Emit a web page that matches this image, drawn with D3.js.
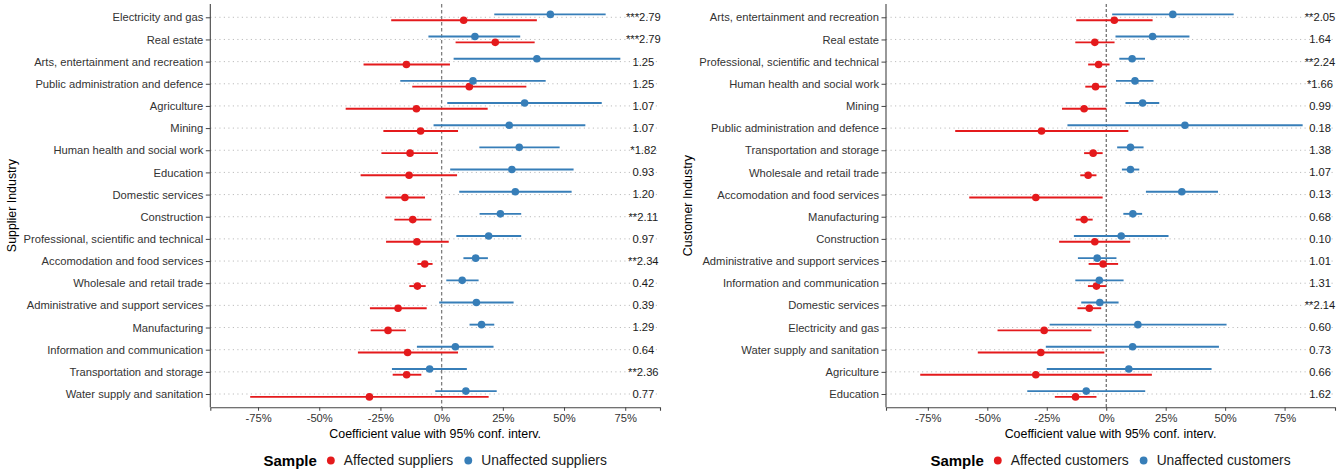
<!DOCTYPE html>
<html><head><meta charset="utf-8">
<script src="https://cdn.jsdelivr.net/npm/d3@7"></script>
<style>
html,body{margin:0;padding:0;background:#fff;}
svg text{font-family:"Liberation Sans",Arial,sans-serif;}
</style></head>
<body><svg id="chart" width="1340" height="472"></svg>
<script>
// ---------- Supplier panel data ----------
const supplierIndustries = ["Electricity and gas","Real estate","Arts, entertainment and recreation","Public administration and defence","Agriculture","Mining","Human health and social work","Education","Domestic services","Construction","Professional, scientific and technical","Accomodation and food services","Wholesale and retail trade","Administrative and support services","Manufacturing","Information and communication","Transportation and storage","Water supply and sanitation"];
const supAffected    = [0.090, 0.219,-0.144, 0.113,-0.103,-0.086,-0.129,-0.133,-0.150,-0.118,-0.101,-0.069,-0.099,-0.178,-0.219,-0.139,-0.143,-0.295];
const supAffectedLo  = [-0.206,0.057,-0.319,-0.120,-0.392,-0.238,-0.246,-0.331,-0.230,-0.193,-0.227,-0.099,-0.132,-0.293,-0.290,-0.342,-0.200,-0.782];
const supAffectedHi  = [0.389, 0.380, 0.034, 0.346, 0.188, 0.067,-0.015, 0.063,-0.068,-0.042, 0.029,-0.037,-0.065,-0.061,-0.146, 0.067,-0.083, 0.192];
const supUnaffected  = [0.444, 0.136, 0.389, 0.128, 0.339, 0.276, 0.317, 0.287, 0.301, 0.240, 0.192, 0.139, 0.084, 0.142, 0.163, 0.056,-0.049, 0.099];
const supUnaffectedLo= [0.215,-0.054, 0.049,-0.169, 0.023,-0.033, 0.154, 0.035, 0.072, 0.155, 0.060, 0.089, 0.019,-0.010, 0.114,-0.101,-0.203,-0.026];
const supUnaffectedHi= [0.670, 0.321, 0.730, 0.425, 0.654, 0.587, 0.482, 0.539, 0.531, 0.325, 0.325, 0.189, 0.151, 0.294, 0.215, 0.212, 0.103, 0.225];
const supLabels = ["***2.79","***2.79","1.25","1.25","1.07","1.07","*1.82","0.93","1.20","**2.11","0.97","**2.34","0.42","0.39","1.29","0.64","**2.36","0.77"];

// ---------- Customer panel data ----------
const customerIndustries = ["Arts, entertainment and recreation","Real estate","Professional, scientific and technical","Human health and social work","Mining","Public administration and defence","Transportation and storage","Wholesale and retail trade","Accomodation and food services","Manufacturing","Construction","Administrative and support services","Information and communication","Domestic services","Electricity and gas","Water supply and sanitation","Agriculture","Education"];
const cusAffected    = [0.034,-0.048,-0.032,-0.045,-0.093,-0.272,-0.055,-0.076,-0.296,-0.093,-0.048,-0.013,-0.041,-0.071,-0.261,-0.275,-0.296,-0.129];
const cusAffectedLo  = [-0.126,-0.130,-0.076,-0.088,-0.186,-0.635,-0.093,-0.109,-0.576,-0.128,-0.198,-0.074,-0.077,-0.121,-0.457,-0.540,-0.782,-0.216];
const cusAffectedHi  = [0.195, 0.035, 0.014, 0.000, 0.001, 0.093,-0.015,-0.041,-0.015,-0.057, 0.101, 0.050,-0.001,-0.021,-0.062,-0.008, 0.192,-0.041];
const cusUnaffected  = [0.280, 0.195, 0.109, 0.121, 0.153, 0.331, 0.102, 0.102, 0.318, 0.112, 0.063,-0.038,-0.029,-0.027, 0.133, 0.111, 0.095,-0.084];
const cusUnaffectedLo= [0.025, 0.039, 0.055, 0.041, 0.081,-0.163, 0.046, 0.066, 0.167, 0.072,-0.136,-0.119,-0.130,-0.105,-0.238,-0.254,-0.250,-0.332];
const cusUnaffectedHi= [0.536, 0.350, 0.163, 0.199, 0.223, 0.826, 0.157, 0.139, 0.470, 0.151, 0.262, 0.043, 0.073, 0.052, 0.506, 0.474, 0.443, 0.164];
const cusLabels = ["**2.05","1.64","**2.24","*1.66","0.99","0.18","1.38","1.07","0.13","0.68","0.10","1.01","1.31","**2.14","0.60","0.73","0.66","1.62"];

const xTicks = [-0.75,-0.5,-0.25,0,0.25,0.5,0.75];
const xTickLabels = ["-75%","-50%","-25%","0%","25%","50%","75%"];
const RED = "#E41A1C", BLUE = "#377EB8";

const svg = d3.select("#chart");

function panel(o){
  const g = svg.append("g");
  const x = d3.scaleLinear().domain(o.domain).range([o.left, o.right]);
  const y = d3.scalePoint().domain(o.cats).range([o.top, o.bottom]).padding(0.6);
  const dodge = y.step()*0.13;

  // gridlines
  g.append("g").selectAll("line").data(o.cats).join("line")
    .attr("x1", o.left).attr("x2", o.right)
    .attr("y1", d=>y(d)).attr("y2", d=>y(d))
    .attr("stroke","#bdbdbd").attr("stroke-width",1).attr("stroke-dasharray","1.2,3.3");

  // zero line
  g.append("line").attr("x1",x(0)).attr("x2",x(0)).attr("y1",o.top).attr("y2",o.bottom)
    .attr("stroke",o.zeroColor).attr("stroke-width",o.zeroWidth).attr("stroke-dasharray",o.zeroDash);

  // axes
  const xAxis = g.append("g").attr("transform",`translate(0,${o.bottom})`)
    .call(d3.axisBottom(x).tickValues(xTicks).tickFormat((d,i)=>xTickLabels[i]).tickSizeOuter(0).tickSize(3.5).tickPadding(3));
  xAxis.select(".domain").attr("stroke","#444").attr("stroke-width",1.1);
  xAxis.selectAll(".tick line").attr("stroke","#444");
  xAxis.selectAll(".tick text").attr("fill","#333").style("font-size","11.2px").style("font-family","'Liberation Sans',Arial,sans-serif");

  const yAxis = g.append("g").attr("transform",`translate(${o.left},0)`)
    .call(d3.axisLeft(y).tickSizeOuter(0).tickSize(4.5).tickPadding(2.5));
  yAxis.select(".domain").attr("stroke","#444").attr("stroke-width",1.1)
    .attr("d",`M0,${o.top}V${o.bottom}`);
  yAxis.selectAll(".tick line").attr("stroke","#444");
  yAxis.selectAll(".tick text").attr("fill","#333").style("font-size","11.2px").style("font-family","'Liberation Sans',Arial,sans-serif");

  // series
  const series = [
    {v:o.aff, lo:o.affLo, hi:o.affHi, c:RED, dy: dodge},
    {v:o.unaff, lo:o.unaffLo, hi:o.unaffHi, c:BLUE, dy: -dodge}
  ];
  series.forEach(s=>{
    const data = o.cats.map((c,i)=>({c, v:s.v[i], lo:s.lo[i], hi:s.hi[i]}));
    const sg = g.append("g");
    sg.selectAll("line").data(data).join("line")
      .attr("x1",d=>x(d.lo)).attr("x2",d=>x(d.hi))
      .attr("y1",d=>y(d.c)+s.dy).attr("y2",d=>y(d.c)+s.dy)
      .attr("stroke",s.c).attr("stroke-width",1.9);
    sg.selectAll("circle").data(data).join("circle")
      .attr("cx",d=>x(d.v)).attr("cy",d=>y(d.c)+s.dy).attr("r",3.8).attr("fill",s.c);
  });

  // t-stat labels
  g.append("g").selectAll("text").data(o.cats).join("text")
    .attr("x",x(o.labelX)).attr("y",d=>y(d)).attr("dy","0.35em")
    .attr("text-anchor","middle").attr("fill","#1a1a1a").style("font-size","11.2px")
    .text((d,i)=>o.labels[i]);

  // axis titles
  g.append("text").attr("x",(o.left+o.right)/2).attr("y",438).attr("text-anchor","middle")
    .style("font-size","12.4px").attr("fill","#000").text("Coefficient value with 95% conf. interv.");
  g.append("text").attr("transform",`translate(${o.ytitleX},${(o.top+o.bottom)/2}) rotate(-90)`)
    .attr("text-anchor","middle").style("font-size","12.4px").attr("fill","#000").text(o.ytitle);

  // legend
  const lg = g.append("g");
  const ly = 460.5;
  const t = lg.append("text").attr("y",ly).attr("dy","0.35em").style("font-size","15px").style("font-weight","bold").text("Sample");
  const wt = t.node().getComputedTextLength();
  const t1 = lg.append("text").attr("y",ly).attr("dy","0.35em").style("font-size","13.8px").attr("fill","#1a1a1a").text(o.leg[0]);
  const t2 = lg.append("text").attr("y",ly).attr("dy","0.35em").style("font-size","13.8px").attr("fill","#1a1a1a").text(o.leg[1]);
  const w1 = t1.node().getComputedTextLength(), w2 = t2.node().getComputedTextLength();
  const total = wt + 14 + 13 + w1 + 15 + 13 + w2;
  let sx = (o.left+o.right)/2 - total/2;
  t.attr("x",sx);
  const d1 = sx + wt + 14;
  lg.append("circle").attr("cx",d1).attr("cy",ly).attr("r",3.9).attr("fill",RED);
  t1.attr("x",d1+13);
  const d2 = d1 + 13 + w1 + 15;
  lg.append("circle").attr("cx",d2).attr("cy",ly).attr("r",3.9).attr("fill",BLUE);
  t2.attr("x",d2+13);
}

panel({cats:supplierIndustries, domain:[-0.945,0.892], left:210.3, right:660, top:4, bottom:407.3,
  aff:supAffected, affLo:supAffectedLo, affHi:supAffectedHi,
  unaff:supUnaffected, unaffLo:supUnaffectedLo, unaffHi:supUnaffectedHi,
  labels:supLabels, labelX:0.824, ytitle:"Supplier Industry", ytitleX:16,
  zeroColor:"#7f7f7f", zeroWidth:1.3, zeroDash:"3.5,2.5",
  leg:["Affected suppliers","Unaffected suppliers"]});

panel({cats:customerIndustries, domain:[-0.926,0.962], left:886, right:1335, top:4, bottom:407.3,
  aff:cusAffected, affLo:cusAffectedLo, affHi:cusAffectedHi,
  unaff:cusUnaffected, unaffLo:cusUnaffectedLo, unaffHi:cusUnaffectedHi,
  labels:cusLabels, labelX:0.899, ytitle:"Customer Industry", ytitleX:692,
  zeroColor:"#333", zeroWidth:0.9, zeroDash:"3,2",
  leg:["Affected customers","Unaffected customers"]});
</script></body></html>
